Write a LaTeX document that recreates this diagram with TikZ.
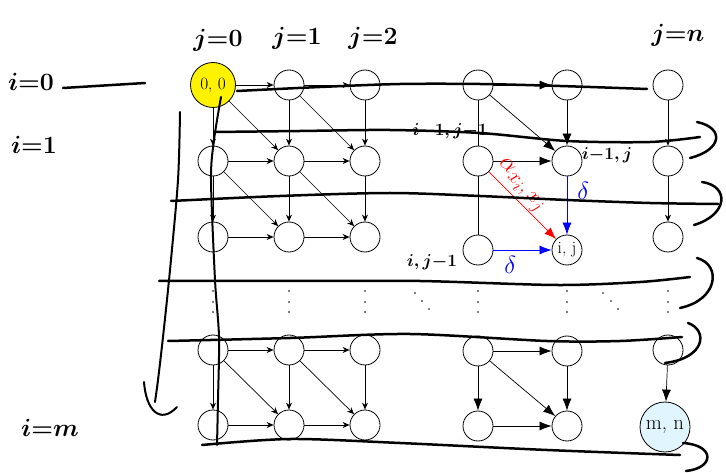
\documentclass[tikz,border=0pt]{standalone}
\usetikzlibrary{arrows.meta}
\begin{document}
\begin{tikzpicture}[x=1pt,y=-1pt,
  vtx/.style={circle,draw,line width=0.8pt,minimum size=30pt,inner sep=0pt,font=\fontsize{17.28}{18}\selectfont},
  sm/.style={-{Stealth[length=7pt,width=6pt]},line width=0.7pt},
  bg/.style={-{Latex[length=12pt,width=9pt]},line width=0.7pt},
  pl/.style={line width=0.7pt},
  hand/.style={line width=2.5pt,line cap=round,line join=round},
  hwL/.style={font=\Huge\boldmath,inner sep=0pt},
  hwS/.style={font=\LARGE\boldmath,inner sep=0pt},
  dt/.style={fill=black}
]
\useasboundingbox (0,0) rectangle (726,473);

% ---- left block nodes
\node[vtx,fill=yellow,minimum size=45pt] (a00) at (213,85) {0, 0};
\node[vtx] (a01) at (289,85) {};
\node[vtx] (a02) at (365,85) {};
\node[vtx] (a10) at (213,161) {};
\node[vtx] (a11) at (289,161) {};
\node[vtx] (a12) at (365,161) {};
\node[vtx] (a20) at (213,237) {};
\node[vtx] (a21) at (289,237) {};
\node[vtx] (a22) at (365,237) {};
\node[vtx] (a30) at (213,350) {};
\node[vtx] (a31) at (289,350) {};
\node[vtx] (a32) at (365,350) {};
\node[vtx] (a40) at (213,425) {};
\node[vtx] (a41) at (289,425) {};
\node[vtx] (a42) at (365,425) {};
% ---- right block nodes
\node[vtx] (b00) at (478,85) {};
\node[vtx] (b01) at (567,85) {};
\node[vtx] (b02) at (668,85) {};
\node[vtx] (b10) at (478,161) {};
\node[vtx] (b11) at (567,161) {};
\node[vtx] (b12) at (668,161) {};
\node[vtx] (b20) at (478,250) {};
\node[vtx] (bij) at (567,250) {i, j};
\node[vtx] (b22) at (668,237) {};
\node[vtx] (b30) at (478,351) {};
\node[vtx] (b31) at (567,351) {};
\node[vtx] (b32) at (668,350) {};
\node[vtx] (b40) at (478,426) {};
\node[vtx] (b41) at (567,426) {};
\node[vtx,fill=cyan!12,minimum size=50pt,font=\fontsize{20.74}{22}\selectfont] (bmn) at (665,427) {m, n};

% ---- left block edges
\foreach \r in {0,1,2,3,4}{
  \draw[sm] (a\r0) -- (a\r1);
  \draw[sm] (a\r1) -- (a\r2);
}
\foreach \c in {0,1,2}{
  \draw[sm] (a0\c) -- (a1\c);
  \draw[sm] (a1\c) -- (a2\c);
  \draw[sm] (a3\c) -- (a4\c);
}
\draw[sm] (a00) -- (a11);
\draw[sm] (a01) -- (a12);
\draw[sm] (a10) -- (a21);
\draw[sm] (a11) -- (a22);
\draw[sm] (a30) -- (a41);
\draw[sm] (a31) -- (a42);

% ---- right block edges
\draw[pl] (b00) -- (b10);
\draw[pl] (b10) -- (b20);
\draw[bg] (b00) -- (b01);
\draw[bg] (b00) -- (b11);
\draw[bg] (b01) -- (b11);
\draw[bg] (b10) -- (b11);
\draw[sm] (b02) -- (b12);
\draw[sm] (b12) -- (b22);
\draw[bg,red] (b10) -- (bij) node[pos=0.34,sloped,above,inner sep=1pt,font=\Huge] {$\alpha_{x_i,\,x_j}$};
\draw[bg,blue] (b11) -- (bij) node[pos=0.24,right,inner sep=10pt,font=\Huge] {$\delta$};
\draw[bg,blue] (b20) -- (bij) node[pos=0.29,below,inner sep=6pt,font=\Huge] {$\delta$};
\draw[bg] (b30) -- (b31);
\draw[bg] (b30) -- (b40);
\draw[bg] (b30) -- (b41);
\draw[bg] (b31) -- (b41);
\draw[bg] (b40) -- (b41);
\draw[bg] (b32) -- (bmn);

% ---- dots
\foreach \x in {213,289,365,478,567,668}{
  \foreach \y in {291,302,312} \fill[dt] (\x,\y) circle (0.9pt);
}
\foreach \x/\y in {415/293,422/301,429/309,603/293,611/301,618/309}
  \fill[dt] (\x,\y) circle (0.9pt);

% ---- handwritten annotations
\node[hwL] (j0) at (218,40) {$j{=}0$};
\node[hwL] (j1) at (297,38) {$j{=}1$};
\node[hwL] (j2) at (373,38) {$j{=}2$};
\node[hwL] (jn) at (678,35) {$j{=}n$};
\node[hwL] (i0) at (31,82) {$i{=}0$};
\node[hwL] (i1) at (34,145) {$i{=}1$};
\node[hwL] (im) at (50,428) {$i{=}m$};
\node[hwS] (lij1) at (450,131) {$i{-}1,j{-}1$};
\node[hwS] (li1j) at (607,155) {$i{-}1,j$};
\node[hwS] (lij) at (432,262) {$i,j{-}1$};

\draw[hand] (63,88) -- (145,83);
% row lines
\draw[hand] plot[smooth] coordinates {(237,91) (320,87) (400,84) (480,84) (560,86) (647,89)};
\draw[hand] plot[smooth] coordinates {(215,132) (300,131) (390,130) (480,133) (567,141) (650,142) (700,137)};
\draw[hand] (697,122) .. controls (725,128) and (722,150) .. (690,158);
\draw[hand] plot[smooth] coordinates {(171,201) (280,196) (390,193) (480,196) (567,200) (650,203) (718,204)};
\draw[hand] (702,182) .. controls (730,186) and (728,215) .. (694,225);
\draw[hand] plot[smooth] coordinates {(159,281) (300,281) (420,281) (557,285) (640,282) (690,277)};
\draw[hand] (697,258) .. controls (722,265) and (718,300) .. (680,308);
\draw[hand] plot[smooth] coordinates {(168,341) (290,338) (410,334) (547,341) (620,341) (682,337)};
\draw[hand] (688,323) .. controls (708,330) and (706,358) .. (665,363);
\draw[hand] plot[smooth] coordinates {(202,445) (290,439) (400,443) (547,450) (680,455)};
\draw[hand] (683,443) .. controls (715,445) and (715,468) .. (686,471);
% vertical line through column 0
\draw[hand,line width=2pt] plot[smooth] coordinates {(221,97) (214,140) (211,180) (215,280) (219,337) (218,400) (217,445)};
% long left arrow with hook
\draw[hand,line width=2pt] plot[smooth] coordinates {(180,112) (178,180) (170,270) (163,337) (158,380) (155,402)};
\draw[hand,line width=2pt] (144,382) .. controls (146,410) and (160,425) .. (177,407);
\end{tikzpicture}
\end{document}
